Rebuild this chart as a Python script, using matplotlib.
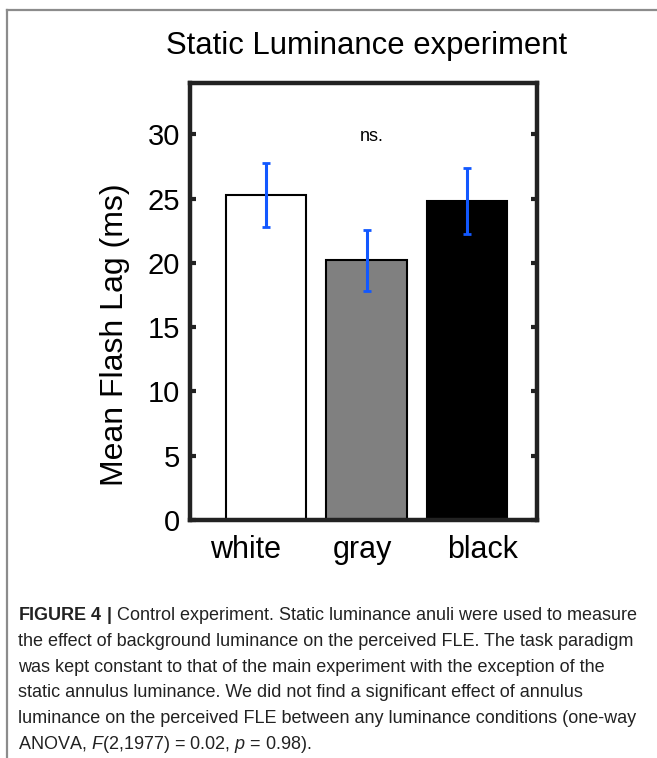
import matplotlib
matplotlib.use("Agg")
import matplotlib.pyplot as plt
from matplotlib.lines import Line2D

plt.rcParams['font.family'] = ['Liberation Sans', 'DejaVu Sans']
plt.rcParams['mathtext.fontset'] = 'custom'
plt.rcParams['mathtext.rm'] = 'Liberation Sans'
plt.rcParams['mathtext.it'] = 'Liberation Sans:italic'
plt.rcParams['mathtext.bf'] = 'Liberation Sans:bold'

# data
conditions = ['white', 'gray', 'black']
mean_lag = [25.3, 20.2, 24.8]
sem_lag = [2.5, 2.35, 2.55]
bar_colors = ['white', '#808080', 'black']
y_ticks = [0, 5, 10, 15, 20, 25, 30]

caption_lines = [
    r'$\mathbf{FIGURE\ 4\ |}$ Control experiment. Static luminance anuli were used to measure',
    'the effect of background luminance on the perceived FLE. The task paradigm',
    'was kept constant to that of the main experiment with the exception of the',
    'static annulus luminance. We did not find a significant effect of annulus',
    'luminance on the perceived FLE between any luminance conditions (one-way',
    r'ANOVA, $F$(2,1977) = 0.02, $p$ = 0.98).',
]

W, H = 657, 758
fig = plt.figure(figsize=(W / 100, H / 100), dpi=100)

# page frame (grey lines at top and left)
fig.add_artist(Line2D([7 / W, 1], [1 - 10 / H, 1 - 10 / H], color='#8c8c8c', lw=1.6))
fig.add_artist(Line2D([7 / W, 7 / W], [0, 1 - 10 / H], color='#8c8c8c', lw=1.6))

ax = fig.add_axes([190 / W, 1 - 520 / H, 347 / W, 437 / H])

x = [1, 2, 3]
ax.bar(x, mean_lag, width=0.8, color=bar_colors, edgecolor='black', linewidth=1.5, zorder=2)
ax.errorbar(x, mean_lag, yerr=sem_lag, fmt='none', ecolor='#1258ff', elinewidth=2.2,
            capsize=3, capthick=2, zorder=3)

ax.set_xlim(0.24, 3.70)
ax.set_ylim(0, 34)
ax.set_yticks(y_ticks)
ax.tick_params(axis='y', direction='in', length=4, width=3, left=True, right=True,
               labelsize=21, pad=7, color='#222222')

# category labels sit a little off the bar centres in the original
label_x = [0.79, 1.955, 3.16]
ax.set_xticks(label_x)
ax.set_xticklabels(conditions)
ax.tick_params(axis='x', length=0, labelsize=22, pad=11)

for s in ax.spines.values():
    s.set_linewidth(3.2)
    s.set_color('#222222')

ax.set_ylabel('Mean Flash Lag (ms)', fontsize=23)
ax.yaxis.set_label_coords(-0.172, 0.424)

ax.text(2.05, 29.8, 'ns.', ha='center', va='center', fontsize=13)

fig.text(367 / W, 1 - 46 / H, 'Static Luminance experiment', ha='center', va='center',
         fontsize=22.3)

base_y = 620
for i, line in enumerate(caption_lines):
    fig.text(18 / W, 1 - (base_y + i * 25.8) / H, line, ha='left', va='baseline',
             fontsize=13.0, color='#222222')

fig.savefig('out.png', dpi=100)
